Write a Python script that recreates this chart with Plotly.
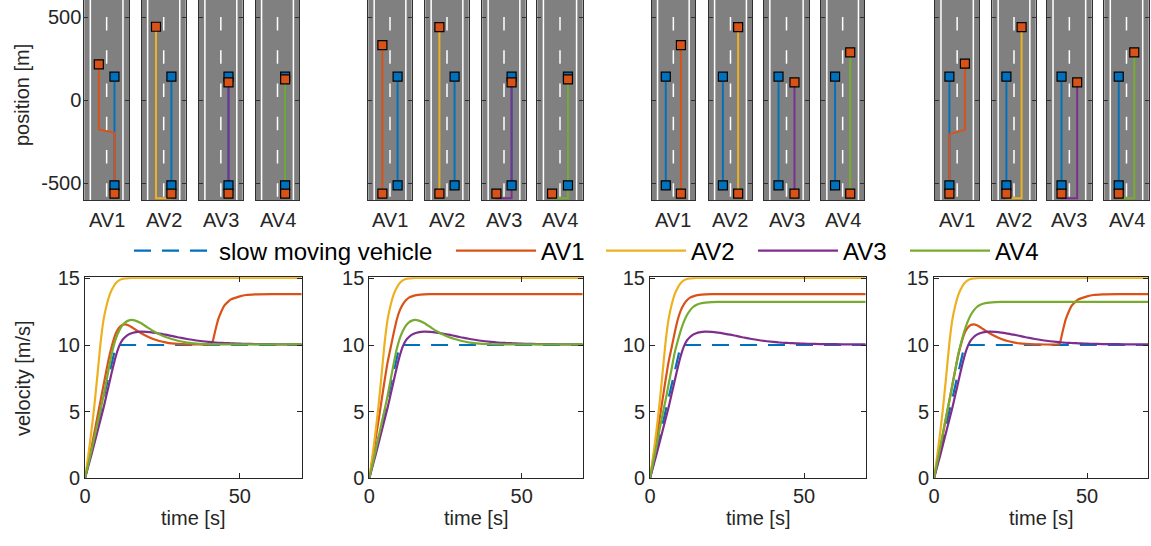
import plotly.graph_objects as go

W, H = 1151, 546
BLUE = '#0072BD'; ORANGE = '#D95319'; YELLOW = '#EDB120'; PURPLE = '#7E2F8E'; GREEN = '#77AC30'
TXT = '#262626'
FONT = 'Liberation Sans, Arial, Helvetica, sans-serif'

# ---------------- data: road snapshots (lane offset [m], position [m]) ----------------
L, R = -1.75, 1.75
AV_NAMES = ['AV1', 'AV2', 'AV3', 'AV4']
SLOW_LANE = [R, R, L, L]             # lane of slow vehicle in each scenario
SLOW_POS = [-512, 142]               # start / end position of slow vehicle

S1_X = [[R, R, L, L], [R, R, L, L], [R, R], [R, R]]
S1_Y = [[-562, -196, -176, 216], [-562, -590, -590, 442], [-562, 108], [-562, 126]]
S2_X = [[L, L], [L, L], [L, L, R, R], [L, L, R, R]]
S2_Y = [[-562, 332], [-562, 440], [-562, -590, -590, 108], [-562, -590, -590, 126]]
S3_X = [[R, R], [R, R], [R, R], [R, R]]
S3_Y = [[-562, 332], [-562, 440], [-562, 108], [-562, 288]]
S4_X = [[L, L, R, R], [L, L, R, R], [L, L, R, R], [L, L, R, R]]
S4_Y = [[-562, -204, -178, 220], [-562, -590, -590, 440], [-562, -590, -590, 108], [-562, -590, -590, 288]]
SCEN_X = [S1_X, S2_X, S3_X, S4_X]
SCEN_Y = [S1_Y, S2_Y, S3_Y, S4_Y]

ROAD_EDGES = [-3.65, 3.65]
CENTER_DASHES = [(-580, -500), (-380, -300), (-180, -100), (20, 100), (220, 300), (420, 500)]

# ---------------- data: velocity profiles ----------------
T = [0, 1, 2, 3, 4, 5, 6, 7, 8, 9, 10, 11, 12, 13, 14, 15, 16, 18, 20, 22, 24, 26, 28, 30, 33, 36,
     40, 41, 42, 43, 44, 45, 46, 47, 48, 50, 52, 55, 60, 65, 70]
T_SLOW = [0, 10, 70]
V_SLOW = [0, 10, 10]
V_AV2 = [0, 1.6, 3.4, 5.4, 7.7, 10.1, 11.9, 13.0, 13.8, 14.3, 14.65, 14.85, 14.95, 15.0, 15.02, 15.03,
         15.03, 15.03, 15.03, 15.03, 15.03, 15.03, 15.03, 15.03, 15.03, 15.03,
         15.03, 15.03, 15.03, 15.03, 15.03, 15.03, 15.03, 15.03, 15.03, 15.03, 15.03, 15.03, 15.03, 15.03, 15.03]
V_AV1_PASS = [0, 1.1, 2.2, 3.4, 4.6, 5.8, 7.0, 8.2, 9.3, 10.2, 10.9, 11.3, 11.5, 11.55, 11.48, 11.35,
              11.2, 10.9, 10.65, 10.45, 10.3, 10.2, 10.12, 10.08, 10.05, 10.04,
              10.04, 10.1, 11.0, 11.9, 12.5, 12.95, 13.2, 13.4, 13.5, 13.65, 13.75, 13.8, 13.82, 13.82, 13.82]
V_AV1_FREE = [0, 1.4, 2.85, 4.3, 5.8, 7.3, 8.7, 9.8, 10.9, 11.9, 12.6, 13.05, 13.35, 13.55, 13.65, 13.72,
              13.76, 13.8, 13.82, 13.82, 13.82, 13.82, 13.82, 13.82, 13.82, 13.82,
              13.82, 13.82, 13.82, 13.82, 13.82, 13.82, 13.82, 13.82, 13.82, 13.82, 13.82, 13.82, 13.82, 13.82, 13.82]
V_AV3 = [0, 0.85, 1.7, 2.6, 3.5, 4.4, 5.3, 6.3, 7.3, 8.3, 9.2, 9.9, 10.35, 10.6, 10.78, 10.88,
         10.95, 11.0, 10.98, 10.93, 10.86, 10.78, 10.68, 10.58, 10.45, 10.34,
         10.23, 10.21, 10.19, 10.17, 10.16, 10.15, 10.14, 10.13, 10.12, 10.1, 10.09, 10.07, 10.06, 10.05, 10.05]
V_AV4_FOLLOW = [0, 1.0, 2.0, 3.05, 4.1, 5.1, 6.2, 7.4, 8.6, 9.7, 10.5, 11.05, 11.45, 11.7, 11.83, 11.88,
                11.85, 11.65, 11.35, 11.05, 10.8, 10.6, 10.45, 10.32, 10.18, 10.1,
                10.06, 10.05, 10.05, 10.05, 10.05, 10.05, 10.05, 10.05, 10.05, 10.05, 10.05, 10.05, 10.05, 10.05, 10.05]
V_AV4_FREE = [0, 1.15, 2.3, 3.5, 4.7, 5.8, 7.0, 8.2, 9.4, 10.3, 11.1, 11.75, 12.25, 12.6, 12.85, 13.0,
              13.1, 13.18, 13.22, 13.23, 13.23, 13.23, 13.23, 13.23, 13.23, 13.23,
              13.23, 13.23, 13.23, 13.23, 13.23, 13.23, 13.23, 13.23, 13.23, 13.23, 13.23, 13.23, 13.23, 13.23, 13.23]
SCEN_V = [
    [V_AV1_PASS, V_AV2, V_AV3, V_AV4_FOLLOW],
    [V_AV1_FREE, V_AV2, V_AV3, V_AV4_FOLLOW],
    [V_AV1_FREE, V_AV2, V_AV3, V_AV4_FREE],
    [V_AV1_PASS, V_AV2, V_AV3, V_AV4_FREE],
]
AV_COLORS = [ORANGE, YELLOW, PURPLE, GREEN]

# ---------------- layout geometry (pixels) ----------------
TOP_X = [(84.3, 129), (141.7, 185.7), (199, 242.7), (255.7, 299.3),
         (368.3, 411.7), (425.3, 468.7), (482.3, 525.7), (537.3, 582.7),
         (651.7, 695), (708.7, 752.3), (763.7, 809.3), (821, 864.3),
         (935, 979.3), (992.3, 1035.7), (1047, 1091.7), (1104.3, 1148.7)]
TOP_Y = (0, 200)
BOT_X = [(85, 301.7), (369.3, 582.7), (650, 865.7), (934, 1148.3)]
BOT_Y = (277.3, 478.3)
LEGEND_LINE_START = [134, 456, 606, 758, 910]   # px where each legend sample line begins
LEGEND_Y = 251


def xd(a, b):
    return [a / W, b / W]


def yd(t, b):
    return [1 - b / H, 1 - t / H]


fig = go.Figure()
layout = {}
shapes = []
annotations = []


def nm(ax):
    return '' if ax == 1 else str(ax)


# ---- top road panels ----
for k in range(16):
    s, i = divmod(k, 4)
    ax = k + 1
    n = nm(ax)
    layout['xaxis' + n] = dict(domain=xd(*TOP_X[k]), range=[-5, 5], anchor='y' + n, automargin=False,
                               showticklabels=False, ticks='', showgrid=False, zeroline=False,
                               showline=True, linecolor='#303030', linewidth=1, mirror=True, fixedrange=True)
    layout['yaxis' + n] = dict(domain=yd(*TOP_Y), range=[-600, 603], anchor='x' + n, automargin=False,
                               tickvals=[-500, 0, 500], ticktext=['-500', '0', '500'],
                               showticklabels=(k == 0), ticks='inside', ticklen=4, tickcolor='#303030',
                               showgrid=False, zeroline=False, showline=True, linecolor='#303030',
                               linewidth=1, mirror='ticks', ticklabelstandoff=-2,
                               tickfont=dict(size=20, color=TXT, family=FONT), fixedrange=True)
    xr, yr = 'x' + n, 'y' + n
    shapes.append(dict(type='rect', xref=xr + ' domain', yref=yr + ' domain', x0=0, x1=1, y0=0, y1=1,
                       fillcolor='#808080', line=dict(width=0), layer='below'))
    for e in ROAD_EDGES:
        shapes.append(dict(type='line', xref=xr, yref=yr + ' domain', x0=e, x1=e, y0=0, y1=1,
                           line=dict(color='white', width=1.5), layer='below'))
    for (a, b) in CENTER_DASHES:
        shapes.append(dict(type='line', xref=xr, yref=yr, x0=0, x1=0, y0=a, y1=b,
                           line=dict(color='white', width=1.5), layer='below'))
    lane = SLOW_LANE[s]
    px = SCEN_X[s][i]
    py = SCEN_Y[s][i]
    col = AV_COLORS[i]
    fig.add_trace(go.Scatter(x=[lane, lane], y=SLOW_POS, mode='lines', line=dict(color=BLUE, width=2),
                             xaxis=xr, yaxis=yr, showlegend=False, hoverinfo='skip'))
    fig.add_trace(go.Scatter(x=px, y=py, mode='lines', line=dict(color=col, width=2),
                             xaxis=xr, yaxis=yr, showlegend=False, hoverinfo='skip'))
    fig.add_trace(go.Scatter(x=[lane, lane], y=SLOW_POS, mode='markers',
                             marker=dict(symbol='square', size=9, color=BLUE, line=dict(color='black', width=1.2)),
                             xaxis=xr, yaxis=yr, showlegend=False, hoverinfo='skip'))
    fig.add_trace(go.Scatter(x=[px[0], px[-1]], y=[py[0], py[-1]], mode='markers',
                             marker=dict(symbol='square', size=9, color=ORANGE, line=dict(color='black', width=1.2)),
                             xaxis=xr, yaxis=yr, showlegend=False, hoverinfo='skip'))
    annotations.append(dict(text=AV_NAMES[i], xref='paper', yref='paper',
                            x=(TOP_X[k][0] + TOP_X[k][1]) / 2 / W, y=1 - 220 / H,
                            xanchor='center', yanchor='middle', showarrow=False,
                            font=dict(size=20, color=TXT, family=FONT)))

# ---- bottom velocity plots ----
LEGENDS = ['legend', 'legend2', 'legend3', 'legend4', 'legend5']
for j in range(4):
    ax = 17 + j
    n = nm(ax)
    xr, yr = 'x' + n, 'y' + n
    layout['xaxis' + n] = dict(domain=xd(*BOT_X[j]), range=[0, 70], anchor=yr, automargin=False,
                               tickvals=[0, 50], ticks='inside', ticklen=5, tickcolor=TXT,
                               showgrid=False, zeroline=False, showline=True, linecolor=TXT, linewidth=1,
                               mirror='ticks', tickfont=dict(size=20, color=TXT, family=FONT), fixedrange=True)
    layout['yaxis' + n] = dict(domain=yd(*BOT_Y), range=[0, 15.08], anchor=xr, automargin=False,
                               tickvals=[0, 5, 10, 15], ticks='inside', ticklen=5, tickcolor=TXT,
                               showgrid=False, zeroline=False, showline=True, linecolor=TXT, linewidth=1,
                               mirror='ticks', ticklabelstandoff=0,
                               tickfont=dict(size=20, color=TXT, family=FONT), fixedrange=True)
    first = (j == 0)
    fig.add_trace(go.Scatter(x=T_SLOW, y=V_SLOW, mode='lines', name='slow moving vehicle',
                             line=dict(color=BLUE, width=2.2, dash='17px,11px'),
                             xaxis=xr, yaxis=yr, showlegend=first, legend=LEGENDS[0]))
    for i in range(4):
        fig.add_trace(go.Scatter(x=T, y=SCEN_V[j][i], mode='lines', name=AV_NAMES[i],
                                 line=dict(color=AV_COLORS[i], width=2.2, shape='spline', smoothing=0.5),
                                 xaxis=xr, yaxis=yr, showlegend=first, legend=LEGENDS[i + 1]))
    annotations.append(dict(text='time [s]', xref='paper', yref='paper',
                            x=(BOT_X[j][0] + BOT_X[j][1]) / 2 / W, y=1 - 518 / H,
                            xanchor='center', yanchor='middle', showarrow=False,
                            font=dict(size=20, color=TXT, family=FONT)))

annotations.append(dict(text='position [m]', xref='paper', yref='paper', x=22 / W, y=1 - 95 / H,
                        textangle=-90, xanchor='center', yanchor='middle', showarrow=False,
                        font=dict(size=20, color=TXT, family=FONT)))
annotations.append(dict(text='velocity [m/s]', xref='paper', yref='paper', x=23 / W, y=1 - 378 / H,
                        textangle=-90, xanchor='center', yanchor='middle', showarrow=False,
                        font=dict(size=20, color=TXT, family=FONT)))

for lg, x0 in zip(LEGENDS, LEGEND_LINE_START):
    layout[lg] = dict(orientation='h', x=(x0 - 5) / W, xanchor='left', y=1 - LEGEND_Y / H, yanchor='middle',
                      font=dict(size=24, color='black', family=FONT), bgcolor='rgba(0,0,0,0)',
                      itemwidth=80, borderwidth=0)

fig.update_layout(
    template='none',
    width=W, height=H,
    margin=dict(l=0, r=0, t=0, b=0, autoexpand=False),
    paper_bgcolor='white', plot_bgcolor='white',
    font=dict(family=FONT, color=TXT, size=20),
    shapes=shapes, annotations=annotations,
    **layout,
)
fig.write_html('out.html', config={'displayModeBar': False},
               post_script="document.body.style.margin='0';document.body.style.overflow='hidden';")
